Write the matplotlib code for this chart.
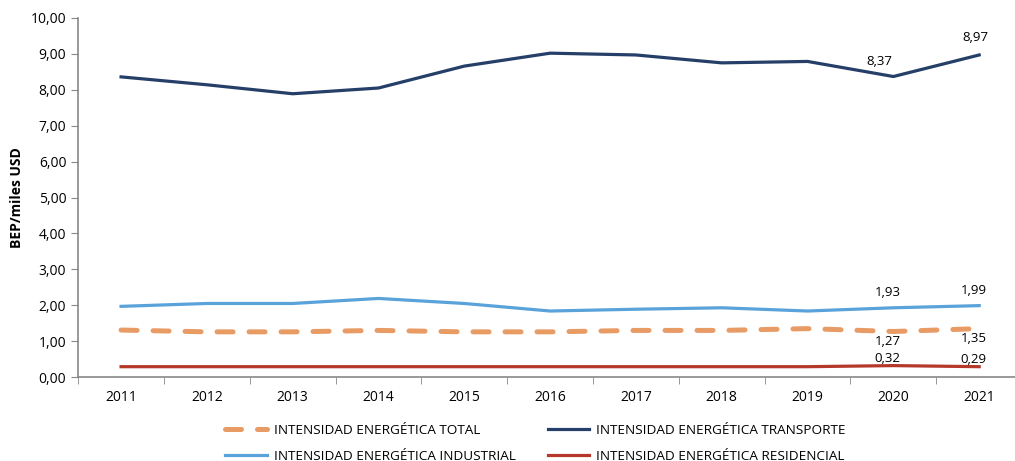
import numpy as np
import matplotlib.pyplot as plt
from matplotlib.ticker import FuncFormatter

plt.rcParams['font.family'] = ['Open Sans', 'DejaVu Sans']

years = ['2011', '2012', '2013', '2014', '2015', '2016', '2017', '2018', '2019', '2020', '2021']
transporte = [8.36, 8.14, 7.89, 8.05, 8.66, 9.02, 8.97, 8.75, 8.79, 8.37, 8.97]
industrial = [1.97, 2.05, 2.05, 2.19, 2.05, 1.84, 1.89, 1.93, 1.84, 1.93, 1.99]
total = [1.31, 1.26, 1.26, 1.30, 1.26, 1.26, 1.30, 1.30, 1.35, 1.27, 1.35]
residencial = [0.29, 0.29, 0.29, 0.29, 0.29, 0.29, 0.29, 0.29, 0.29, 0.32, 0.29]

c_total = '#E99B66'
c_trans = '#253F68'
c_ind = '#5AA2DA'
c_res = '#B5382A'

fig = plt.figure(figsize=(10.15, 4.61), dpi=100)
ax = fig.add_axes([0.077, 0.182, 0.93, 0.779])
x = np.arange(len(years))

l_total, = ax.plot(x, total, color=c_total, lw=3.6, dashes=(3.2, 3.2), solid_capstyle='round',
                   dash_capstyle='round', label='INTENSIDAD ENERGÉTICA TOTAL', zorder=3)
l_trans, = ax.plot(x, transporte, color=c_trans, lw=2.3, label='INTENSIDAD ENERGÉTICA TRANSPORTE', zorder=3)
l_ind, = ax.plot(x, industrial, color=c_ind, lw=2.3, label='INTENSIDAD ENERGÉTICA INDUSTRIAL', zorder=3)
l_res, = ax.plot(x, residencial, color=c_res, lw=2.3, label='INTENSIDAD ENERGÉTICA RESIDENCIAL', zorder=3)

fmt = lambda v: f'{v:.2f}'.replace('.', ',')

# data labels for the last two years
for i in (9, 10):
    dx = -10 if i == 9 else -3
    ax.annotate(fmt(transporte[i]), (x[i], transporte[i]), xytext=(dx, 6 if i == 9 else 8),
                textcoords='offset points', ha='center', va='bottom', fontsize=9.5)
    ax.annotate(fmt(industrial[i]), (x[i], industrial[i]), xytext=(-4, 6),
                textcoords='offset points', ha='center', va='bottom', fontsize=9.5)
    ax.annotate(fmt(total[i]), (x[i], total[i]), xytext=(-4, -2.5),
                textcoords='offset points', ha='center', va='top', fontsize=9.5)
    ax.annotate(fmt(residencial[i]), (x[i], residencial[i]), xytext=(-4, 0.5),
                textcoords='offset points', ha='center', va='bottom', fontsize=9.5)

ax.set_xlim(-0.5, len(years) - 0.5)
ax.set_ylim(0, 10)
ax.set_yticks(np.arange(0, 10.01, 1))
ax.yaxis.set_major_formatter(FuncFormatter(lambda v, p: fmt(v)))
ax.set_xticks(x)
ax.set_xticklabels(years)
ax.set_xticks(np.arange(-0.5, len(years), 1), minor=True)
ax.tick_params(axis='x', which='major', length=0, pad=9, labelsize=10)
ax.tick_params(axis='x', which='minor', length=5, color='#888888', direction='out')
ax.tick_params(axis='y', length=5, color='#888888', labelsize=10)
ax.set_ylabel('BEP/miles USD', fontsize=10, fontweight='bold', labelpad=5)

for s in ['top', 'right']:
    ax.spines[s].set_visible(False)
for s in ['left', 'bottom']:
    ax.spines[s].set_color('#888888')
    ax.spines[s].set_linewidth(1.2)

fig.legend(handles=[l_total, l_ind, l_trans, l_res], ncol=2, loc='upper left',
           bbox_to_anchor=(225 / 1015, 1 - 424 / 461), frameon=False, fontsize=9.7,
           handlelength=3.1, columnspacing=2.4, handletextpad=0.5, labelspacing=0.95,
           borderpad=0, borderaxespad=0)

plt.savefig('out.png', dpi=100)
